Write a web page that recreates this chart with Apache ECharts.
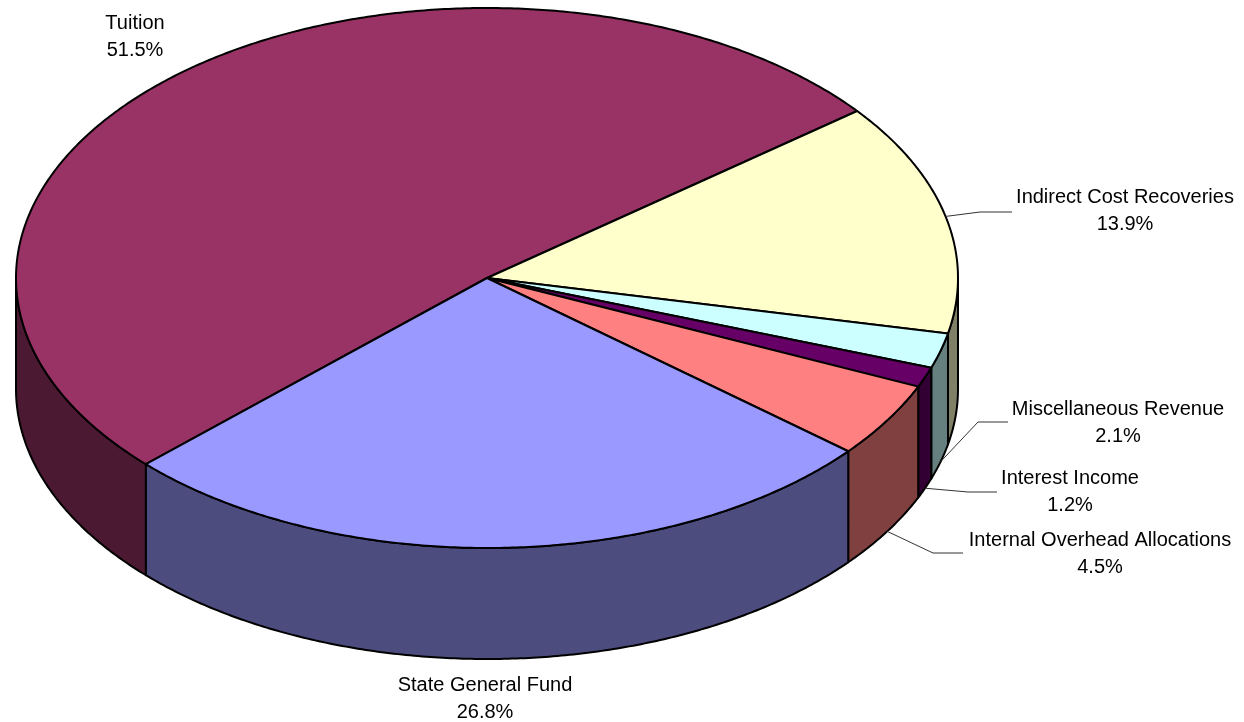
<!DOCTYPE html>
<html><head><meta charset="utf-8">
<script src="https://cdn.jsdelivr.net/npm/echarts@6/dist/echarts.min.js"></script>
<style>html,body{margin:0;padding:0;background:#fff}#c{width:1244px;height:722px}</style>
</head><body><div id="c"></div>
<script>
// ---- data ----
const categories = ['Tuition', 'Indirect Cost Recoveries', 'Miscellaneous Revenue', 'Interest Income', 'Internal Overhead Allocations', 'State General Fund'];
const values = [51.5, 13.9, 2.1, 1.2, 4.5, 26.8];
const topColors = ['#993366', '#FFFFCC', '#CCFFFF', '#660066', '#FF8080', '#9999FF'];
const sideColors = ['#4C1933', '#808066', '#668080', '#330033', '#804040', '#4C4C7F'];

// ---- layout ----
const CX = 487, CY = 278, RX = 471, RY = 270, DEPTH = 111, START = 136.4;
const FONT = 'Liberation Sans, Arial, sans-serif';
const labelLayout = [
  { x: 135, y: 37, elbow: null },
  { x: 1125, y: 211, elbow: [[980, 212], [1012, 212]], edge: 'top' },
  { x: 1118, y: 423, elbow: [[978, 422], [1008, 422]], edge: 'bottom' },
  { x: 1070, y: 492, elbow: [[968, 492], [997, 492]], edge: 'bottom' },
  { x: 1100, y: 554, elbow: [[933, 553], [963, 553]], edge: 'bottom' },
  { x: 485, y: 699, elbow: null }
];

const total = values.reduce((s, v) => s + v, 0);
const angles = [];
(function () {
  let a = START;
  values.forEach(v => { const b = a + v / total * 360; angles.push([a, b]); a = b; });
})();

function pt(t, dy) {
  const r = t * Math.PI / 180;
  return [CX + RX * Math.cos(r), CY + RY * Math.sin(r) + (dy || 0)];
}
function arcPts(a, b, dy) {
  const n = Math.max(2, Math.ceil(Math.abs(b - a) / 0.5));
  const pts = [];
  for (let i = 0; i <= n; i++) pts.push(pt(a + (b - a) * i / n, dy));
  return pts;
}

const chart = echarts.init(document.getElementById('c'), null, { renderer: 'canvas' });

const seriesData = categories.map((c, i) => ({ name: c, value: values[i] }));

chart.setOption({
  backgroundColor: '#fff',
  animation: false,
  series: [
    {
      type: 'custom', coordinateSystem: 'none', z: 1, silent: true,
      data: seriesData,
      renderItem: function (params, api) {
        const i = params.dataIndex;
        const [a, b] = angles[i];
        const children = [];
        [[0, 180], [360, 540]].forEach(([lo, hi]) => {
          const s = Math.max(a, lo), e = Math.min(b, hi);
          if (e > s) {
            const pts = arcPts(s, e, 0).concat(arcPts(e, s, DEPTH));
            children.push({
              type: 'polygon', shape: { points: pts },
              style: { fill: sideColors[i], stroke: '#000', lineWidth: 2, lineJoin: 'round' }
            });
          }
        });
        return { type: 'group', children };
      }
    },
    {
      type: 'custom', coordinateSystem: 'none', z: 2, silent: true,
      data: seriesData,
      renderItem: function (params, api) {
        const i = params.dataIndex;
        const [a, b] = angles[i];
        const pts = [[CX, CY]].concat(arcPts(a, b, 0));
        return {
          type: 'polygon', shape: { points: pts },
          style: { fill: topColors[i], stroke: '#000', lineWidth: 2, lineJoin: 'round' }
        };
      }
    },
    {
      type: 'custom', coordinateSystem: 'none', z: 3, silent: true,
      data: seriesData,
      renderItem: function (params, api) {
        const i = params.dataIndex;
        const [a, b] = angles[i];
        const L = labelLayout[i];
        const children = [];
        if (L.elbow) {
          const m = (a + b) / 2;
          const start = pt(m, L.edge === 'top' ? 0 : DEPTH);
          children.push({
            type: 'polyline', shape: { points: [start].concat(L.elbow) },
            style: { stroke: '#333', lineWidth: 1, fill: null }
          });
        }
        children.push({
          type: 'text',
          style: {
            text: categories[i] + '\n' + (api.value(0) / total * 100).toFixed(1) + '%',
            x: L.x, y: L.y, align: 'center', verticalAlign: 'middle',
            fontSize: 20, fontFamily: FONT, lineHeight: 27, fill: '#000'
          }
        });
        return { type: 'group', children };
      }
    }
  ]
});
</script>
</body></html>
